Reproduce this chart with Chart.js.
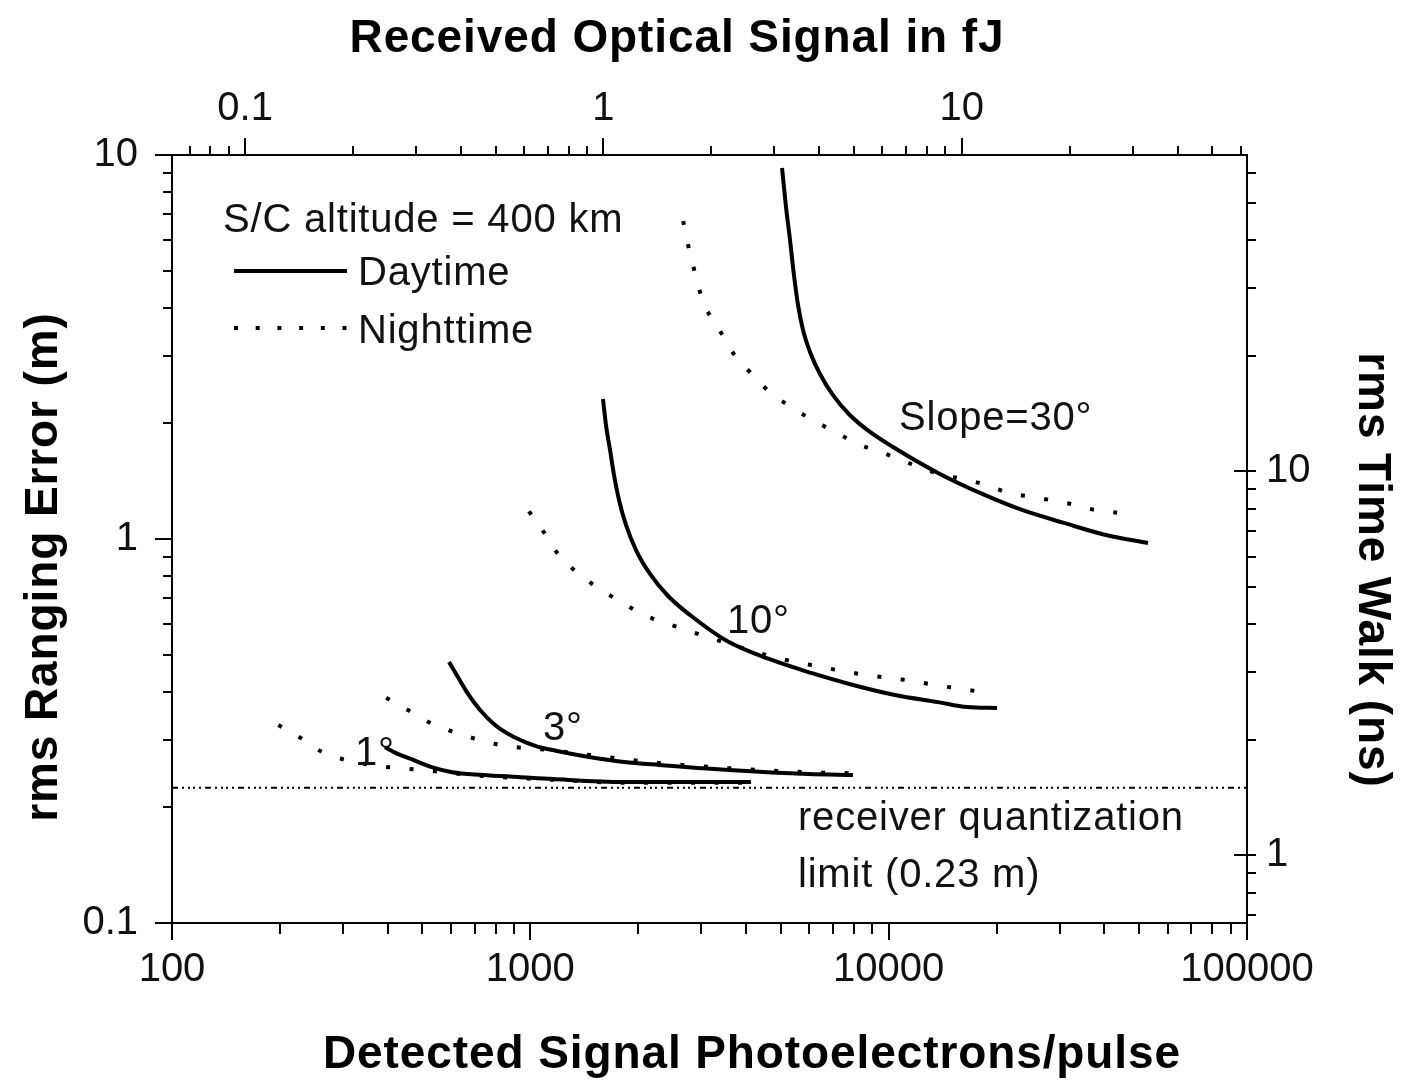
<!DOCTYPE html>
<html><head><meta charset="utf-8">
<script src="https://cdn.jsdelivr.net/npm/chart.js@4.4.1/dist/chart.umd.min.js"></script>
<style>html,body{margin:0;padding:0;background:#fff;}canvas{display:block;}</style>
</head><body>
<canvas id="c" width="1413" height="1082"></canvas>
<script>
// ---------------- data ----------------
const PE_PER_FJ = 1600;          // photoelectrons per fJ (top axis)
const NS_PER_M = 6.67;           // ns of time walk per metre of ranging error (right axis)
const xRange = [100, 100000];    // detected photoelectrons / pulse
const yRange = [0.1, 10];        // rms ranging error (m)

const bottomTickLabels = ['100', '1000', '10000', '100000'];
const topTickLabels = ['0.1', '1', '10'];
const leftTickLabels = ['0.1', '1', '10'];
const rightTickLabels = ['1', '10'];

const day30X = [5040, 5170, 5305, 5441, 5585, 5768, 6032, 6432, 6993, 7802, 8868, 10280, 13730, 17980, 23560, 30850, 40420, 52940];
const day30Y = [9.25, 7.32, 6.01, 4.87, 4.07, 3.50, 3.07, 2.69, 2.37, 2.10, 1.90, 1.736, 1.486, 1.318, 1.190, 1.101, 1.024, 0.976];
const night30X = [2670, 2750, 2840, 2940, 3090, 3360, 3660, 4100, 4690, 5410, 6190, 7180, 8160, 9400, 14100, 16300, 18800, 21500, 24800, 28700, 32700, 37700, 43400];
const night30Y = [6.73, 5.87, 5.20, 4.56, 4.00, 3.52, 3.07, 2.72, 2.40, 2.19, 2.03, 1.89, 1.77, 1.69, 1.47, 1.43, 1.38, 1.32, 1.29, 1.26, 1.23, 1.19, 1.17];

const day10X = [1595, 1626, 1669, 1712, 1768, 1849, 1972, 2158, 2423, 2790, 3539, 4636, 6072, 7953, 10410, 13730, 16550, 20060];
const day10Y = [2.315, 1.981, 1.705, 1.468, 1.264, 1.088, 0.936, 0.811, 0.7105, 0.634, 0.5425, 0.487, 0.448, 0.4168, 0.3925, 0.376, 0.365, 0.363];
const night10X = [991, 1092, 1195, 1376, 1575, 1814, 2076, 2390, 2773, 3190, 4760, 6270, 8320, 11000, 14600, 19100];
const night10Y = [1.18, 1.04, 0.914, 0.806, 0.737, 0.681, 0.634, 0.604, 0.576, 0.552, 0.493, 0.467, 0.445, 0.430, 0.412, 0.397];

const day3X = [593, 628, 670, 724, 797, 900, 1037, 1187, 1458, 1825, 2286, 3584, 5956, 7953];
const day3Y = [0.478, 0.437, 0.395, 0.3586, 0.3278, 0.305, 0.2889, 0.2805, 0.2706, 0.2627, 0.258, 0.2503, 0.2443, 0.2428];
const night3X = [396, 459, 525, 601, 692, 792, 912, 1050, 1460, 2290, 3580, 5960, 7800];
const night3Y = [0.386, 0.357, 0.332, 0.316, 0.303, 0.293, 0.287, 0.284, 0.274, 0.261, 0.253, 0.247, 0.2455];

const day1X = [393, 422, 471, 528, 605, 738, 924, 1157, 1825, 4130];
const day1Y = [0.287, 0.277, 0.266, 0.255, 0.247, 0.243, 0.240, 0.237, 0.233, 0.233];
const night1X = [198, 229, 262, 300, 346, 396, 459, 530, 610, 740, 930, 1160, 1830, 4000];
const night1Y = [0.328, 0.303, 0.279, 0.267, 0.2595, 0.255, 0.252, 0.249, 0.2455, 0.2415, 0.2385, 0.236, 0.232, 0.232];

const quantX = [100, 100000];
const quantY = [0.225, 0.225];

// ---------------- helpers ----------------
const FAMILY = '"Liberation Sans", Arial, sans-serif';
const pts = (xs, ys) => xs.map((x, i) => ({x, y: ys[i]}));
const isMajor = v => Math.abs(Math.log10(v) - Math.round(Math.log10(v))) < 1e-9;
const fmt = v => parseFloat(v.toPrecision(6)).toString();
function logTicks(min, max) {
  const out = [];
  for (let e = Math.floor(Math.log10(min)) - 1; e <= Math.ceil(Math.log10(max)); e++) {
    for (let m = 1; m < 10; m++) {
      const v = parseFloat((m * Math.pow(10, e)).toPrecision(12));
      if (v >= min * 0.9999 && v <= max * 1.0001) out.push({value: v, major: m === 1});
    }
  }
  return out;
}
const tickFont = {family: FAMILY, size: 40, weight: 'normal'};
function axis(position, min, max, labels, size, pad) {
  const horiz = position === 'top' || position === 'bottom';
  return {
    type: 'logarithmic', position, min, max,
    afterBuildTicks: s => { s.ticks = logTicks(s.min, s.max); },
    afterFit: s => { if (horiz) s.height = size; else s.width = size; },
    grid: {display: false, drawTicks: false},
    border: {display: true, color: '#000', width: 2},
    title: {display: false},
    ticks: {
      autoSkip: false, maxRotation: 0, minRotation: 0, padding: pad,
      font: tickFont, color: '#111',
      callback: v => { const s = fmt(v); return labels.includes(s) ? s : ''; }
    }
  };
}

const solid = {borderColor: '#000', borderWidth: 4, pointRadius: 0, showLine: true,
  cubicInterpolationMode: 'monotone', fill: false, order: 0, xAxisID: 'x', yAxisID: 'y'};
const dotted = {borderColor: '#000', borderWidth: 4, borderDash: [4, 19.5], borderCapStyle: 'butt',
  pointRadius: 0, showLine: true, cubicInterpolationMode: 'monotone', fill: false, order: 1, xAxisID: 'x', yAxisID: 'y'};

// ---------------- plugins ----------------
const tickMarks = {
  id: 'tickMarks',
  afterDraw(chart) {
    const ctx = chart.ctx, ca = chart.chartArea, S = chart.scales;
    ctx.save();
    ctx.strokeStyle = '#000'; ctx.lineWidth = 2; ctx.lineCap = 'butt';
    const line = (x1, y1, x2, y2) => { ctx.beginPath(); ctx.moveTo(x1, y1); ctx.lineTo(x2, y2); ctx.stroke(); };
    S.x.ticks.forEach(t => { const p = Math.round(S.x.getPixelForValue(t.value)); line(p, ca.bottom, p, ca.bottom + (isMajor(t.value) ? 17 : 11)); });
    S.x2.ticks.forEach(t => { const p = Math.round(S.x2.getPixelForValue(t.value)); line(p, ca.top, p, ca.top - (isMajor(t.value) ? 17 : 9)); });
    S.y.ticks.forEach(t => { const p = Math.round(S.y.getPixelForValue(t.value)); line(ca.left, p, ca.left - (isMajor(t.value) ? 17 : 9), p); });
    S.y2.ticks.forEach(t => { const p = Math.round(S.y2.getPixelForValue(t.value));
      if (isMajor(t.value)) line(ca.right - 13, p, ca.right + 9, p); else line(ca.right, p, ca.right + 9, p); });
    ctx.restore();
  }
};

const annotations = {
  id: 'annotations',
  afterDraw(chart) {
    const ctx = chart.ctx;
    ctx.save();
    ctx.fillStyle = '#000';
    ctx.textBaseline = 'alphabetic';
    const setFont = (w, size, sp) => { ctx.font = `${w} ${size}px ${FAMILY}`; ctx.letterSpacing = sp + 'px'; };
    // axis titles
    setFont('bold', 46, 0.9);
    ctx.textAlign = 'center';
    ctx.fillText('Received Optical Signal in fJ', 677, 52);
    ctx.fillText('Detected Signal Photoelectrons/pulse', 752, 1068);
    ctx.save(); ctx.translate(57, 567); ctx.rotate(-Math.PI / 2); ctx.fillText('rms Ranging Error (m)', 0, 0); ctx.restore();
    ctx.save(); ctx.translate(1359, 570); ctx.rotate(Math.PI / 2); ctx.fillText('rms Time Walk (ns)', 0, 0); ctx.restore();
    // in-plot text
    setFont('normal', 40, 0.8);
    ctx.fillStyle = '#111';
    ctx.textAlign = 'left';
    ctx.fillText('S/C altitude = 400 km', 223, 232);
    ctx.fillText('Daytime', 358, 285);
    ctx.fillText('Nighttime', 358, 343);
    ctx.fillText('Slope=30\u00b0', 899, 430);
    ctx.fillText('10\u00b0', 727, 633);
    ctx.fillText('3\u00b0', 543, 740);
    ctx.fillText('1\u00b0', 355, 765);
    ctx.fillText('receiver quantization', 798, 830);
    ctx.fillText('limit (0.23 m)', 798, 887);
    // legend samples
    ctx.strokeStyle = '#000';
    ctx.lineWidth = 4; ctx.lineCap = 'butt';
    ctx.beginPath(); ctx.moveTo(234, 271); ctx.lineTo(347, 271); ctx.stroke();
    ctx.setLineDash([4, 17.7]);
    ctx.beginPath(); ctx.moveTo(234, 328); ctx.lineTo(348, 328); ctx.stroke();
    ctx.restore();
  }
};

// ---------------- chart ----------------
new Chart(document.getElementById('c'), {
  type: 'scatter',
  data: {
    datasets: [
      {...solid, label: 'Daytime 30°', data: pts(day30X, day30Y)},
      {...solid, label: 'Daytime 10°', data: pts(day10X, day10Y)},
      {...solid, label: 'Daytime 3°', data: pts(day3X, day3Y)},
      {...solid, label: 'Daytime 1°', data: pts(day1X, day1Y)},
      {...dotted, label: 'Nighttime 30°', data: pts(night30X, night30Y)},
      {...dotted, label: 'Nighttime 10°', data: pts(night10X, night10Y)},
      {...dotted, label: 'Nighttime 3°', data: pts(night3X, night3Y)},
      {...dotted, label: 'Nighttime 1°', data: pts(night1X, night1Y)},
      {label: 'receiver quantization limit', data: pts(quantX, quantY), showLine: true, pointRadius: 0,
       borderColor: '#000', borderWidth: 2, borderDash: [6, 4, 2, 4, 2, 3, 2, 4, 2, 4], order: 2,
       xAxisID: 'x', yAxisID: 'y'}
    ]
  },
  options: {
    responsive: false, devicePixelRatio: 1, animation: false,
    layout: {padding: 0},
    plugins: {legend: {display: false}, tooltip: {enabled: false}},
    scales: {
      x: axis('bottom', xRange[0], xRange[1], bottomTickLabels, 159, 23),
      x2: axis('top', xRange[0] / PE_PER_FJ, xRange[1] / PE_PER_FJ, topTickLabels, 155, 22),
      y: axis('left', yRange[0], yRange[1], leftTickLabels, 172, 34),
      y2: axis('right', yRange[0] * NS_PER_M, yRange[1] * NS_PER_M, rightTickLabels, 166, 19)
    }
  },
  plugins: [tickMarks, annotations]
});
</script>
</body></html>
